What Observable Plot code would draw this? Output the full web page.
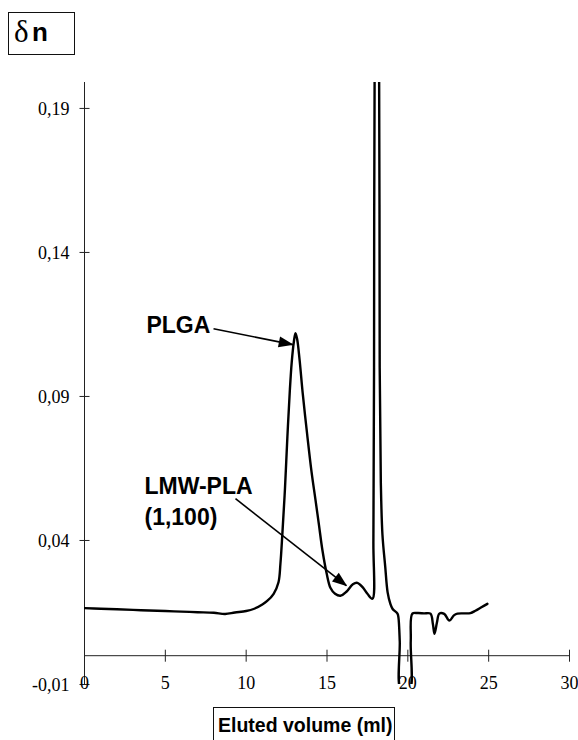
<!DOCTYPE html>
<html>
<head>
<meta charset="utf-8">
<script src="https://cdn.jsdelivr.net/npm/d3@7"></script>
<script src="https://cdn.jsdelivr.net/npm/@observablehq/plot@0.6"></script>
<style>
  html, body { margin: 0; padding: 0; background: #fff; }
  #wrap { position: relative; width: 578px; height: 740px; overflow: hidden; background: #fff; }
  #wrap svg { position: absolute; left: 0; top: 0; }
  .box { position: absolute; border: 1.5px solid #111; background: #fff; box-sizing: border-box; color: #000; }
  #dn { left: 8px; top: 12px; width: 67px; height: 43px; }
  #dn .d { position: absolute; left: 5px; top: 1px; font-family: "Liberation Serif", serif; font-size: 31px; }
  #dn .n { position: absolute; left: 23px; top: 4px; font-family: "Liberation Sans", Arial, sans-serif; font-weight: bold; font-size: 26px; }
  #xl { left: 213px; top: 707px; width: 182px; height: 44px; font-family: "Liberation Sans", Arial, sans-serif; font-weight: bold; font-size: 19.5px; padding-left: 4px; padding-top: 6px; white-space: nowrap; }
</style>
</head>
<body>
<div id="wrap">
  <div id="chart"></div>
  <div class="box" id="dn"><span class="d">δ</span><span class="n">n</span></div>
  <div class="box" id="xl">Eluted volume (ml)</div>
</div>
<script>
// ---- data ----
const volume = [0, 1, 2, 3, 4, 5, 6, 7, 8, 8.7, 9.3, 10.0, 10.5, 11.0, 11.3, 11.7, 12.0, 12.12, 12.24, 12.4, 12.55, 12.7, 12.82, 12.95, 13.05, 13.15, 13.3, 13.5, 13.77, 14.04, 14.29, 14.5, 14.72, 14.98, 15.21, 15.5, 15.83, 16.2, 16.6, 16.88, 17.2, 17.5, 17.81, 17.87, 17.91, 17.95, 18.08, 18.22, 18.26, 18.33, 18.43, 18.6, 18.75, 18.92, 19.05, 19.36, 19.42, 19.5, 19.58, 20.1, 20.18, 20.28, 20.6, 21.0, 21.4, 21.55, 21.65, 21.8, 21.95, 22.25, 22.57, 22.85, 23.07, 23.5, 23.87, 24.18, 24.55, 24.92];
const deltaN = [0.0165, 0.0163, 0.0161, 0.0159, 0.0157, 0.0155, 0.0153, 0.0151, 0.0149, 0.0145, 0.0150, 0.0155, 0.0163, 0.0178, 0.019, 0.0215, 0.0255, 0.032, 0.0424, 0.058, 0.076, 0.092, 0.102, 0.109, 0.112, 0.110, 0.103, 0.091, 0.077, 0.064, 0.054, 0.0455, 0.0365, 0.0285, 0.0236, 0.0215, 0.0208, 0.0222, 0.0248, 0.0253, 0.0238, 0.0215, 0.0198, 0.04, 0.1, 0.21, 0.26, 0.21, 0.1, 0.06, 0.042, 0.031, 0.022, 0.018, 0.0163, 0.0146, 0.0132, 0.005, -0.012, -0.012, 0.005, 0.0146, 0.0148, 0.0147, 0.0146, 0.011, 0.0076, 0.0115, 0.0146, 0.0145, 0.0122, 0.014, 0.0146, 0.0147, 0.0148, 0.0156, 0.0168, 0.018];

const xTicks = [0, 5, 10, 15, 20, 25, 30];
const yTicks = [-0.01, 0.04, 0.09, 0.14, 0.19];
const yTickLabels = ["-0,01", "0,04", "0,09", "0,14", "0,19"];

const annotationText = ["PLGA", "LMW-PLA", "(1,100)"];
const annotationX = [3.83, 3.71, 3.71];
const annotationY = [0.1146, 0.0587, 0.0478];

const arrowX1 = [7.98, 9.34];
const arrowY1 = [0.1135, 0.0545];
const arrowX2 = [12.88, 16.2];
const arrowY2 = [0.108, 0.0243];

// ---- layout ----
const W = 578, H = 740;
const mL = 84, mR = 9, mT = 82, mB = 56;
const xDom = [0, 30], yDom = [-0.01, 0.199];

const series = volume.map((v, i) => ({v, dn: deltaN[i]}));
const labels = annotationText.map((t, i) => ({t, x: annotationX[i], y: annotationY[i]}));
const arrows = arrowX1.map((x1, i) => ({x1, y1: arrowY1[i], x2: arrowX2[i], y2: arrowY2[i]}));

const px = x => mL + (x - xDom[0]) / (xDom[1] - xDom[0]) * (W - mL - mR);
const py = y => mT + (yDom[1] - y) / (yDom[1] - yDom[0]) * (H - mT - mB);
const angle = d => Math.atan2(py(d.y2) - py(d.y1), px(d.x2) - px(d.x1)) * 180 / Math.PI;

const hTick = {draw(ctx) { ctx.moveTo(-5, 0); ctx.lineTo(5, 0); }};
const vTick = {draw(ctx) { ctx.moveTo(0, -6); ctx.lineTo(0, 6); }};
const head = {draw(ctx) { ctx.moveTo(1, 0); ctx.lineTo(-14, -5.5); ctx.lineTo(-14, 5.5); ctx.closePath(); }};

const serif = "Liberation Serif, Times New Roman, serif";
const sans = "Liberation Sans, Arial, sans-serif";

const chart = Plot.plot({
  width: W, height: H,
  marginLeft: mL, marginRight: mR, marginTop: mT, marginBottom: mB,
  x: {domain: xDom, axis: null},
  y: {domain: yDom, axis: null},
  style: {background: "transparent", overflow: "visible"},
  marks: [
    Plot.ruleX([0], {y1: yDom[0], y2: yDom[1], stroke: "#222", strokeWidth: 1}),
    Plot.ruleY([0], {x1: xDom[0], x2: xDom[1], stroke: "#222", strokeWidth: 1}),
    Plot.dot(yTicks, {x: 0, y: d => d, symbol: hTick, fill: "none", stroke: "#222", strokeWidth: 1}),
    Plot.dot(xTicks, {x: d => d, y: 0, symbol: vTick, fill: "none", stroke: "#222", strokeWidth: 1}),
    Plot.text(yTicks, {x: 0, y: d => d, text: (d, i) => yTickLabels[i], textAnchor: "end", dx: -15, dy: 1, fontSize: 18, fontFamily: serif, fill: "#000"}),
    Plot.text(xTicks, {x: d => d, y: yDom[0], text: d => String(d), dy: -1, fontSize: 18, fontFamily: serif, fill: "#000"}),
    Plot.line(series, {x: "v", y: "dn", stroke: "#000", strokeWidth: 2.4, curve: "catmull-rom", clip: true}),
    Plot.link(arrows, {x1: "x1", y1: "y1", x2: "x2", y2: "y2", stroke: "#000", strokeWidth: 1.6}),
    Plot.dot(arrows, {x: "x2", y: "y2", symbol: head, fill: "#000", stroke: "none", rotate: angle}),
    Plot.text(labels, {x: "x", y: "y", text: "t", textAnchor: "start", fontSize: 23, fontWeight: "bold", fontFamily: sans, fill: "#000"})
  ]
});
document.getElementById("chart").appendChild(chart);
</script>
</body>
</html>
